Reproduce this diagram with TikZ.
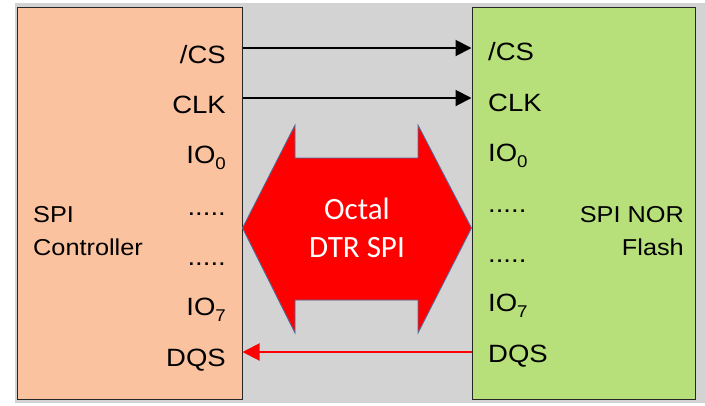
\documentclass[tikz,border=0pt]{standalone}
\usepackage{fontspec}
\setmainfont{Liberation Sans}[FakeStretch=1.1]
\newfontfamily\calfont{Carlito}
\usetikzlibrary{arrows.meta, positioning, calc}

\definecolor{bggray}{RGB}{211,211,211}
\definecolor{ctrlfill}{RGB}{251,194,159}
\definecolor{flashfill}{RGB}{184,224,122}
\definecolor{busedge}{RGB}{79,110,160}

% lowered index digit of the IO pins
\newcommand{\pinsub}[1]{\raisebox{-6bp}{\fontsize{17bp}{17bp}\selectfont #1}}

\begin{document}
\begin{tikzpicture}[
    x=1bp, y=-1bp,
    devbox/.style={rectangle, draw=black!85, line width=1bp, minimum width=224bp, minimum height=392bp, inner sep=0pt},
    pinL/.style={anchor=base east, inner sep=0pt, font=\fontsize{25bp}{30bp}\selectfont},
    pinR/.style={anchor=base west, inner sep=0pt, font=\fontsize{25bp}{30bp}\selectfont},
    devname/.style={inner sep=0pt, font=\fontsize{23bp}{33bp}\selectfont},
    sigarrow/.style={-{Triangle[length=16bp, width=16bp]}, line width=2bp, black},
    dqsarrow/.style={-{Triangle[length=17bp, width=17bp]}, line width=2bp, red},
    busshape/.style={fill=red, draw=busedge, line width=0.8bp, line join=miter},
    bustext/.style={inner sep=0pt, text=white, align=center, font=\calfont\fontsize{31bp}{38bp}\selectfont}
]
    \useasboundingbox (0,0) rectangle (705,405);
    % background panel
    \fill[bggray] (15,3) rectangle (705,403);

    % Controller and flash blocks
    \node[devbox, fill=ctrlfill] (ctrl) at (130,203) {};
    \node[devbox, fill=flashfill, minimum width=223bp] (flash) at (583.5,203) {};
    \node[devname, anchor=west, align=left] (ctrl_name) at (33,231.5) {SPI\\Controller};
    \node[devname, anchor=east, align=right] (flash_name) at (684,231) {SPI NOR\\Flash};

    % Controller pins
    \node[pinL] (cs_l) at (226,63) {/CS};
    \node[pinL] (clk_l) at (226,113) {CLK};
    \node[pinL] (io0_l) at (226,163) {IO\pinsub{0}};
    \node[pinL] (dots1_l) at (226,215) {.....};
    \node[pinL] (dots2_l) at (226,265) {.....};
    \node[pinL] (io7_l) at (226,315) {IO\pinsub{7}};
    \node[pinL] (dqs_l) at (226,366) {DQS};

    % Flash pins
    \node[pinR] (cs_r) at (488,60) {/CS};
    \node[pinR] (clk_r) at (488,111) {CLK};
    \node[pinR] (io0_r) at (488,161) {IO\pinsub{0}};
    \node[pinR] (dots1_r) at (488,212) {.....};
    \node[pinR] (dots2_r) at (488,262) {.....};
    \node[pinR] (io7_r) at (488,311) {IO\pinsub{7}};
    \node[pinR] (dqs_r) at (488,362) {DQS};

    % Octal data bus (double arrow between the blocks)
    \coordinate (bus_c) at (357,228);
    \draw[busshape] (ctrl.east |- bus_c) -- (295,125) -- (295,158) -- (418,158) -- (418,125)
        -- (flash.west |- bus_c) -- (418,333) -- (418,300) -- (295,300) -- (295,333) -- cycle;
    \node[bustext] (bus) at (bus_c) {Octal\\DTR SPI};

    % Signal lines
    \coordinate (cs_row) at (0,48);
    \coordinate (clk_row) at (0,98);
    \coordinate (dqs_row) at (0,352);
    \draw[sigarrow] (ctrl.east |- cs_row) -- (flash.west |- cs_row);
    \draw[sigarrow] (ctrl.east |- clk_row) -- (flash.west |- clk_row);
    \draw[dqsarrow] (flash.west |- dqs_row) -- (ctrl.east |- dqs_row);
\end{tikzpicture}
\end{document}
